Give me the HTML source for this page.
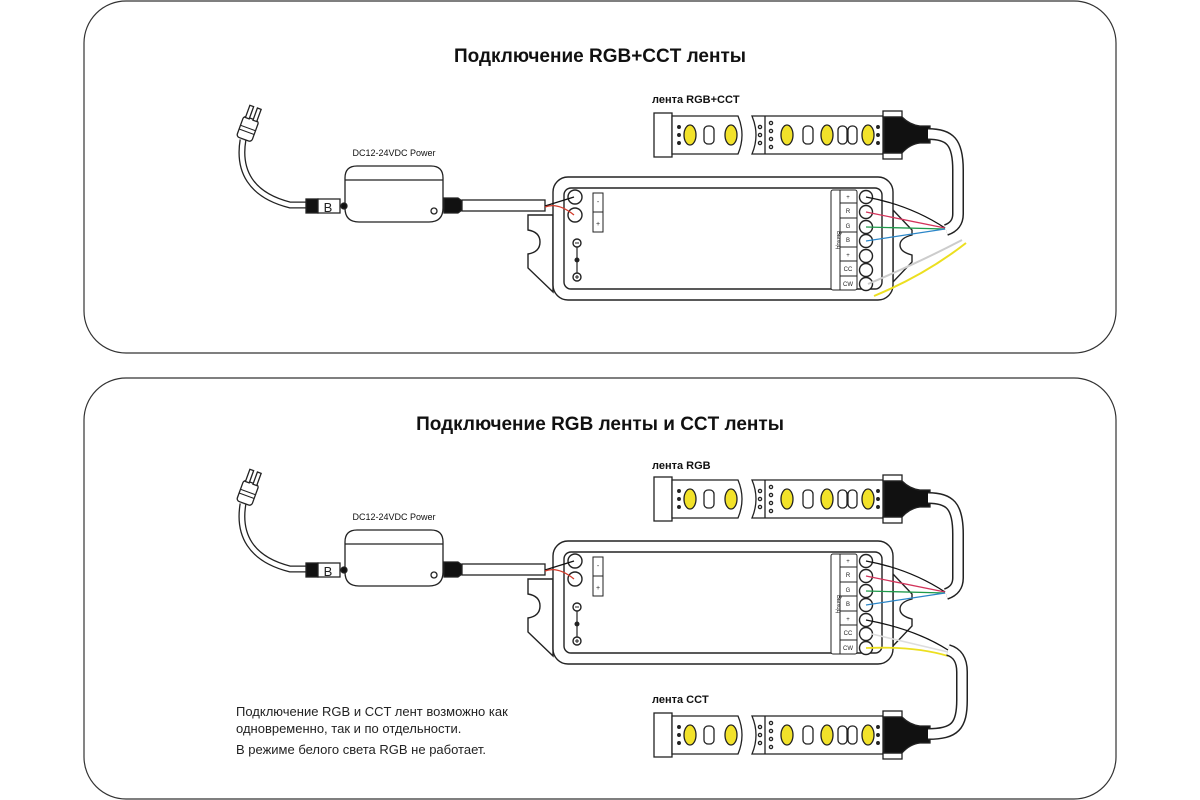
<!DOCTYPE html>
<html><head><meta charset="utf-8">
<style>
html,body{margin:0;padding:0;background:#fff;}
svg{display:block;}
.t{font-family:"Liberation Sans","Noto Sans CJK SC",sans-serif;}
</style></head>
<body>
<svg width="1200" height="800" viewBox="0 0 1200 800" xmlns="http://www.w3.org/2000/svg">
<defs>
<g id="strip" stroke="#222" stroke-width="1.3" fill="#fff">
  <rect x="654" y="113" width="18" height="44"/>
  <path d="M672 116 H738 Q746 135 738 154 H672 Z"/>
  <ellipse cx="690" cy="135" rx="6" ry="10" fill="#f2e22a"/>
  <rect x="704" y="126" width="10" height="18" rx="4"/>
  <ellipse cx="731" cy="135" rx="6" ry="10" fill="#f2e22a"/>
  <circle cx="679" cy="127" r="1.3" fill="#222"/><circle cx="679" cy="135" r="1.3" fill="#222"/><circle cx="679" cy="143" r="1.3" fill="#222"/>
  <path d="M752 116 H883 V154 H752 Q760 135 752 116 Z"/>
  <line x1="765" y1="116" x2="765" y2="154"/>
  <circle cx="760" cy="127" r="1.6"/><circle cx="760" cy="135" r="1.6"/><circle cx="760" cy="143" r="1.6"/>
  <circle cx="771" cy="123" r="1.6"/><circle cx="771" cy="131" r="1.6"/><circle cx="771" cy="139" r="1.6"/><circle cx="771" cy="147" r="1.6"/>
  <ellipse cx="787" cy="135" rx="6" ry="10" fill="#f2e22a"/>
  <rect x="803" y="126" width="10" height="18" rx="4"/>
  <ellipse cx="827" cy="135" rx="6" ry="10" fill="#f2e22a"/>
  <rect x="838" y="126" width="9" height="18" rx="4"/>
  <rect x="848" y="126" width="9" height="18" rx="4"/>
  <ellipse cx="868" cy="135" rx="6" ry="10" fill="#f2e22a"/>
  <circle cx="878" cy="127" r="1.3" fill="#222"/><circle cx="878" cy="135" r="1.3" fill="#222"/><circle cx="878" cy="143" r="1.3" fill="#222"/>
  <rect x="883" y="111" width="19" height="6"/>
  <rect x="883" y="153" width="19" height="6"/>
  <path d="M884 117 H902 Q910 125 920 126 H930 V143 H920 Q910 144 902 153 H884 Z" fill="#111"/>
</g>
<g id="ctrl" stroke="#222" stroke-width="1.4" fill="#fff">
  <path d="M553 215 H528 V230 Q540 232 540 242 Q540 252 528 254 V268 L553 292 Z"/>
  <path d="M893 210 L912 230 V235 Q900 238 900 245 Q900 252 912 255 V262 L893 282 Z"/>
  <rect x="553" y="177" width="340" height="123" rx="15"/>
  <rect x="564" y="188" width="318" height="101" rx="7"/>
  <circle cx="575" cy="197" r="7"/><circle cx="575" cy="215" r="7"/>
  <rect x="593" y="193" width="10" height="39" stroke-width="1"/>
  <line x1="593" y1="212" x2="603" y2="212" stroke-width="1"/>
  <text x="598" y="204" font-size="7" class="t" text-anchor="middle" fill="#222" stroke="none">-</text>
  <text x="598" y="226" font-size="7" class="t" text-anchor="middle" fill="#222" stroke="none">+</text>
  <line x1="577" y1="243" x2="577" y2="277" stroke-width="1.2"/>
  <circle cx="577" cy="243" r="4"/><circle cx="577" cy="277" r="4"/>
  <circle cx="577" cy="260" r="1.8" fill="#222"/>
  <line x1="575" y1="243" x2="579" y2="243" stroke-width="1"/>
  <line x1="575" y1="277" x2="579" y2="277" stroke-width="1"/><line x1="577" y1="275" x2="577" y2="279" stroke-width="1"/>
  <rect x="831" y="190" width="26" height="100" rx="2" stroke-width="1"/>
  <line x1="840" y1="190" x2="840" y2="290" stroke-width="1"/>
  <g stroke-width="1">
  <line x1="840" y1="203" x2="857" y2="203"/><line x1="840" y1="218" x2="857" y2="218"/>
  <line x1="840" y1="232" x2="857" y2="232"/><line x1="840" y1="247" x2="857" y2="247"/>
  <line x1="840" y1="261" x2="857" y2="261"/><line x1="840" y1="276" x2="857" y2="276"/>
  </g>
  <circle cx="866" cy="197" r="6.5"/><circle cx="866" cy="212" r="6.5"/><circle cx="866" cy="227" r="6.5"/>
  <circle cx="866" cy="241" r="6.5"/><circle cx="866" cy="256" r="6.5"/><circle cx="866" cy="270" r="6.5"/><circle cx="866" cy="284" r="6.5"/>
  <path d="M545 206 L574 197" stroke="#111" stroke-width="1.3" fill="none"/>
  <path d="M545 207 Q558 202 574 215" stroke="#d23b2a" stroke-width="1.3" fill="none"/>
</g>
<g id="psu" fill="#fff" stroke="#222" stroke-width="1.3">
  <path d="M243 140 C238 170 250 195 290 205 L306 205" stroke="#222" stroke-width="7" fill="none"/>
  <path d="M243 140 C238 170 250 195 290 205 L306 205" stroke="#fff" stroke-width="4.4" fill="none"/>
  <g transform="rotate(20 248 128)">
    <rect x="240" y="118" width="16" height="22" rx="3"/>
    <rect x="242" y="106" width="4" height="13"/><rect x="250" y="106" width="4" height="13"/>
    <line x1="240" y1="128" x2="256" y2="128" stroke-width="1"/>
    <line x1="240" y1="132" x2="256" y2="132" stroke-width="1"/>
  </g>
  <rect x="306" y="199" width="12" height="14" fill="#111"/>
  <path d="M318 199 H340 V213 H318 Z"/>
  <text x="328" y="212" font-size="13" class="t" text-anchor="middle" fill="#222" stroke="none">B</text>
  <path d="M357 166 H431 Q443 166 443 178 V208 Q443 222 429 222 H359 Q345 222 345 208 V178 Q345 166 357 166 Z"/>
  <line x1="345" y1="180" x2="443" y2="180" stroke-width="1.2"/>
  <circle cx="344" cy="206" r="3" fill="#111"/>
  <circle cx="434" cy="211" r="3"/>
  <path d="M444 198 H458 L462 201 V210 L458 213 H444 Z" fill="#111"/>
  <rect x="462" y="200" width="83" height="11"/>
</g>
</defs>

<rect x="84" y="1" width="1032" height="352" rx="42" fill="#fff" stroke="#333" stroke-width="1.2"/>
<rect x="84" y="378" width="1032" height="421" rx="42" fill="#fff" stroke="#333" stroke-width="1.2"/>

<text x="600" y="62" class="t" font-size="19" font-weight="bold" text-anchor="middle" fill="#111">Подключение RGB+CCT ленты</text>
<text x="600" y="430" class="t" font-size="19" font-weight="bold" text-anchor="middle" fill="#111">Подключение RGB ленты и CCT ленты</text>

<!-- Panel 1 -->
<text x="394" y="156" class="t" font-size="9" text-anchor="middle" fill="#111">DC12-24VDC Power</text>
<text x="652" y="103" class="t" font-size="11" font-weight="bold" fill="#111">лента RGB+CCT</text>
<use href="#psu"/>
<use href="#ctrl"/>
<use href="#strip"/>
<path d="M928 134 C950 134 958 142 958 170 L958 214 Q958 226 946 230" stroke="#222" stroke-width="12" fill="none"/>
<path d="M928 134 C950 134 958 142 958 170 L958 214 Q958 226 946 230" stroke="#fff" stroke-width="9" fill="none"/>
<g fill="none" stroke-width="1.3">
<path d="M866 197 Q910 205 945 228" stroke="#111"/>
<path d="M866 212 L945 228" stroke="#d2335a"/>
<path d="M866 227 L945 229" stroke="#1e9a4a"/>
<path d="M866 241 L945 229" stroke="#2b86c8"/>
<path d="M868 284 Q920 262 962 240" stroke="#ccc" stroke-width="2"/>
<path d="M874 296 Q925 275 966 243" stroke="#ecdf20" stroke-width="2"/>
</g>

<!-- Panel 2 -->
<g transform="translate(0,364)">
<use href="#psu"/>
<use href="#ctrl"/>
<use href="#strip"/>
<path d="M928 134 C950 134 958 142 958 170 L958 214 Q958 226 946 230" stroke="#222" stroke-width="12" fill="none"/>
<path d="M928 134 C950 134 958 142 958 170 L958 214 Q958 226 946 230" stroke="#fff" stroke-width="9" fill="none"/>
<g fill="none" stroke-width="1.3">
<path d="M866 197 Q910 205 945 228" stroke="#111"/>
<path d="M866 212 L945 228" stroke="#d2335a"/>
<path d="M866 227 L945 229" stroke="#1e9a4a"/>
<path d="M866 241 L945 229" stroke="#2b86c8"/>
<path d="M866 256 Q915 265 948 286" stroke="#111"/>
<path d="M872 270 L948 288" stroke="#ddd" stroke-width="1.6"/>
<path d="M866 284 Q915 282 948 292" stroke="#ecdf20" stroke-width="1.8"/>
</g>
</g>
<g transform="translate(0,600)">
<use href="#strip"/>
</g>
<path d="M928 734 C955 734 962 726 962 700 L962 672 Q962 654 948 650" stroke="#222" stroke-width="12" fill="none"/>
<path d="M928 734 C955 734 962 726 962 700 L962 672 Q962 654 948 650" stroke="#fff" stroke-width="9" fill="none"/>

<text x="394" y="520" class="t" font-size="9" text-anchor="middle" fill="#111">DC12-24VDC Power</text>
<text x="652" y="469" class="t" font-size="11" font-weight="bold" fill="#111">лента RGB</text>
<text x="652" y="703" class="t" font-size="11" font-weight="bold" fill="#111">лента CCT</text>

<g class="t" font-size="6" fill="#222" text-anchor="middle">
<text x="848" y="199">+</text><text x="848" y="213">R</text><text x="848" y="228">G</text><text x="848" y="242">B</text><text x="848" y="257">+</text><text x="848" y="271">CC</text><text x="848" y="286">CW</text>
<text x="848" y="563">+</text><text x="848" y="577">R</text><text x="848" y="592">G</text><text x="848" y="606">B</text><text x="848" y="621">+</text><text x="848" y="635">CC</text><text x="848" y="650">CW</text>
<text x="0" y="0" transform="translate(837,240) rotate(90)">Выход</text>
<text x="0" y="0" transform="translate(837,604) rotate(90)">Выход</text>
</g>

<g class="t" font-size="13" fill="#222">
<text x="236" y="716">Подключение RGB и CCT лент возможно как</text>
<text x="236" y="733">одновременно, так и по отдельности.</text>
<text x="236" y="754">В режиме белого света RGB не работает.</text>
</g>
</svg>
</body></html>
